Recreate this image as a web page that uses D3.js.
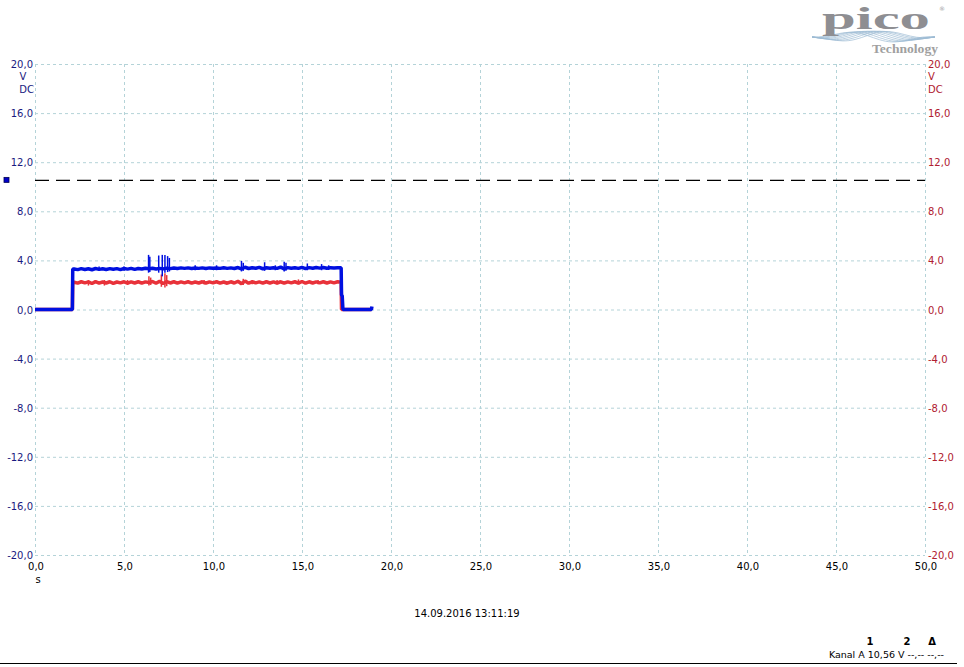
<!DOCTYPE html>
<html>
<head>
<meta charset="utf-8">
<script src="https://cdn.jsdelivr.net/npm/d3@7"></script>
<style>
  body { margin: 0; background: #fff; }
  svg { display: block; }
  text { font-family: "DejaVu Sans", Verdana, sans-serif; font-size: 10px; }
</style>
</head>
<body>
<div id="chart"></div>
<script>
// time axis ticks (s) and voltage ticks (V)
var xTicks = [0, 5, 10, 15, 20, 25, 30, 35, 40, 45, 50];
var yTicks = [20, 16, 12, 8, 4, 0, -4, -8, -12, -16, -20];

// sample times during the active phase (s)
var activeTimes = [
    2.2, 2.4, 2.6, 2.8, 3.0,
    3.2, 3.4, 3.6, 3.8, 4.0,
    4.2, 4.4, 4.6, 4.8, 5.0,
    5.2, 5.4, 5.6, 5.8, 6.0,
    6.2, 6.4, 6.6, 6.8, 7.0,
    7.2, 7.4, 7.6, 7.8, 8.0,
    8.2, 8.4, 8.6, 8.8, 9.0,
    9.2, 9.4, 9.6, 9.8, 10.0,
    10.2, 10.4, 10.6, 10.8, 11.0,
    11.2, 11.4, 11.6, 11.8, 12.0,
    12.2, 12.4, 12.6, 12.8, 13.0,
    13.2, 13.4, 13.6, 13.8, 14.0,
    14.2, 14.4, 14.6, 14.8, 15.0,
    15.2, 15.4, 15.6, 15.8, 16.0,
    16.2, 16.4, 16.6, 16.8, 17.0,
    17.2];

// Kanal A (blue)
var blueActive = [
    3.30, 3.25, 3.33, 3.26, 3.32,
    3.24, 3.34, 3.27, 3.32, 3.26,
    3.33, 3.28, 3.33, 3.25, 3.34,
    3.29, 3.35, 3.27, 3.34, 3.30,
    3.36, 3.32, 3.36, 3.30, 3.35,
    3.31, 3.37, 3.33, 3.38, 3.34,
    3.39, 3.35, 3.39, 3.34, 3.38,
    3.35, 3.39, 3.34, 3.39, 3.36,
    3.38, 3.35, 3.40, 3.35, 3.39,
    3.34, 3.42, 3.30, 3.44, 3.34,
    3.40, 3.36, 3.43, 3.32, 3.40,
    3.36, 3.40, 3.35, 3.45, 3.31,
    3.41, 3.36, 3.40, 3.35, 3.43,
    3.33, 3.41, 3.36, 3.42, 3.37,
    3.42, 3.36, 3.41, 3.38, 3.40,
    3.40];
var blueBeforeTimes = [0, 2.1, 2.12];
var blueBeforeValues = [0.0, 0.0, 3.30];
var blueAfterTimes = [17.22, 17.26, 17.3, 18.9, 18.93];
var blueAfterValues = [1.20, 1.10, 0.0, 0.0, 0.25];
// short glitches on Kanal A: time, min, max
var blueSpikeTimes = [3.6, 5.0, 6.38, 6.45, 6.95, 7.15, 7.3, 7.45, 7.55, 9.0, 10.2, 11.6, 11.7, 12.9, 13.5, 14.0, 14.1, 15.3, 16.1, 16.5];
var blueSpikeLow = [3.15, 3.15, 3.0, 3.05, 3.0, 2.7, 3.0, 3.05, 3.1, 3.2, 3.2, 3.1, 3.15, 3.15, 3.2, 3.1, 3.15, 3.2, 3.2, 3.22];
var blueSpikeHigh = [3.5, 3.5, 4.45, 4.3, 4.4, 4.45, 4.45, 4.35, 4.2, 3.6, 3.6, 3.95, 3.8, 3.85, 3.6, 3.9, 3.8, 3.75, 3.7, 3.6];

// Kanal B (red)
var redActive = [
    2.22, 2.15, 2.26, 2.17, 2.25,
    2.12, 2.27, 2.15, 2.24, 2.16,
    2.26, 2.13, 2.24, 2.17, 2.26,
    2.14, 2.25, 2.16, 2.26, 2.15,
    2.25, 2.20, 2.28, 2.14, 2.30,
    2.12, 2.28, 2.16, 2.26, 2.15,
    2.25, 2.17, 2.26, 2.15, 2.24,
    2.16, 2.26, 2.14, 2.25, 2.17,
    2.26, 2.15, 2.24, 2.14, 2.26,
    2.16, 2.30, 2.10, 2.32, 2.14,
    2.26, 2.17, 2.25, 2.15, 2.26,
    2.16, 2.25, 2.15, 2.26, 2.14,
    2.25, 2.17, 2.26, 2.15, 2.28,
    2.14, 2.26, 2.16, 2.25, 2.17,
    2.26, 2.16, 2.25, 2.17, 2.26,
    2.22];
var redBeforeTimes = [0, 2.1, 2.12];
var redBeforeValues = [0.0, 0.0, 2.22];
var redAfterTimes = [17.22, 18.9];
var redAfterValues = [0.0, 0.0];
// short glitches on Kanal B: time, min, max
var redSpikeTimes = [3.0, 3.9, 5.2, 6.4, 6.5, 7.1, 7.3, 7.4, 9.5, 11.7, 12.2, 13.6, 14.8, 15.9];
var redSpikeLow = [1.95, 1.95, 2.0, 1.95, 2.0, 1.85, 1.8, 1.9, 2.05, 2.0, 2.05, 2.05, 2.05, 2.05];
var redSpikeHigh = [2.4, 2.4, 2.4, 2.7, 2.6, 2.85, 2.95, 2.8, 2.4, 2.5, 2.4, 2.4, 2.45, 2.4];

var triggerLevel = 10.56;

var width = 964;
var height = 667;

var svg = d3.select("#chart").append("svg")
    .attr("width", width)
    .attr("height", height);

var x = d3.scaleLinear().domain([0, 50]).range([35, 925]);
var y = d3.scaleLinear().domain([-20, 20]).range([555, 64]);

var gridColor = "#b4d3d8";
var fmt = function (d) { return d3.format(".1f")(d).replace(".", ",").replace("−", "-"); };

// grid
svg.append("g").selectAll("line")
    .data(xTicks).enter().append("line")
    .attr("x1", d => x(d) + 0.5).attr("x2", d => x(d) + 0.5)
    .attr("y1", y(20)).attr("y2", y(-20))
    .style("stroke", gridColor)
    .style("stroke-dasharray", "3,3");

svg.append("g").selectAll("line")
    .data(yTicks).enter().append("line")
    .attr("x1", x(0)).attr("x2", x(50))
    .attr("y1", d => y(d) + 0.5).attr("y2", d => y(d) + 0.5)
    .style("stroke", gridColor)
    .style("stroke-dasharray", "3,3");

// left axis labels
svg.append("g").selectAll("text")
    .data(yTicks).enter().append("text")
    .attr("x", x(0) - 2).attr("y", d => y(d) + 4)
    .attr("text-anchor", "end")
    .style("fill", "#1a1a80")
    .text(fmt);
svg.append("text").attr("x", 23).attr("y", 80).attr("text-anchor", "middle").style("fill", "#1a1a80").text("V");
svg.append("text").attr("x", x(0) - 1).attr("y", 93).attr("text-anchor", "end").style("fill", "#1a1a80").text("DC");

// right axis labels
svg.append("g").selectAll("text")
    .data(yTicks).enter().append("text")
    .attr("x", x(50) + 3).attr("y", d => y(d) + 4)
    .style("fill", "#b02030")
    .text(fmt);
svg.append("text").attr("x", x(50) + 3).attr("y", 80).style("fill", "#b02030").text("V");
svg.append("text").attr("x", x(50) + 3).attr("y", 93).style("fill", "#b02030").text("DC");

// bottom axis labels
svg.append("g").selectAll("text")
    .data(xTicks).enter().append("text")
    .attr("x", d => x(d) + 1).attr("y", 570)
    .attr("text-anchor", "middle")
    .style("fill", "#000")
    .text(fmt);
svg.append("text").attr("x", 38).attr("y", 583).attr("text-anchor", "middle").style("fill", "#000").text("s");

// trigger level
svg.append("line")
    .attr("x1", x(0)).attr("x2", x(50))
    .attr("y1", y(triggerLevel) + 0.5).attr("y2", y(triggerLevel) + 0.5)
    .style("stroke", "#000")
    .style("stroke-width", 1.2)
    .style("stroke-dasharray", "14,7");
svg.append("rect")
    .attr("x", 4).attr("y", y(triggerLevel) - 2.5)
    .attr("width", 5).attr("height", 5)
    .style("fill", "#0000c8")
    .style("stroke", "#000050")
    .style("stroke-width", 0.8);

// signals
var line = d3.line()
    .x(d => x(d[0]))
    .y(d => y(d[1]));

function drawTrace(times, values, spikeTimes, spikeLow, spikeHigh, color) {
    svg.append("path")
        .datum(d3.zip(times, values))
        .attr("d", line)
        .style("fill", "none")
        .style("stroke", color)
        .style("stroke-width", 3.5)
        .style("stroke-linejoin", "bevel");

    svg.append("g").selectAll("line")
        .data(d3.zip(spikeTimes, spikeLow, spikeHigh))
        .enter().append("line")
        .attr("x1", d => x(d[0])).attr("x2", d => x(d[0]))
        .attr("y1", d => y(d[1])).attr("y2", d => y(d[2]))
        .style("stroke", color)
        .style("stroke-width", 1.5);
}

drawTrace(redBeforeTimes.concat(activeTimes, redAfterTimes),
    redBeforeValues.concat(redActive, redAfterValues),
    redSpikeTimes, redSpikeLow, redSpikeHigh, "#e8323a");
drawTrace(blueBeforeTimes.concat(activeTimes, blueAfterTimes),
    blueBeforeValues.concat(blueActive, blueAfterValues),
    blueSpikeTimes, blueSpikeLow, blueSpikeHigh, "#0010e0");

// footer
svg.append("text").attr("x", 467).attr("y", 617).attr("text-anchor", "middle").style("fill", "#000").text("14.09.2016 13:11:19");

svg.append("text").attr("x", 870).attr("y", 645).attr("text-anchor", "middle").style("font-weight", "bold").text("1");
svg.append("text").attr("x", 907).attr("y", 645).attr("text-anchor", "middle").style("font-weight", "bold").text("2");
svg.append("text").attr("x", 932).attr("y", 645).attr("text-anchor", "middle").style("font-weight", "bold").text("Δ");
svg.append("text").attr("x", 944).attr("y", 658).attr("text-anchor", "end").style("font-size", "9.5px").text("Kanal A  10,56 V  --,--    --,--");

svg.append("line")
    .attr("x1", 0).attr("x2", 957)
    .attr("y1", 663.5).attr("y2", 663.5)
    .style("stroke", "#000");

// pico logo
var logo = svg.append("g");

var waveX = d3.scaleLinear().domain([0, 1]).range([812, 935]);
var wavePhases = [0, 0.12, 0.24, 0.36, 0.48, 0.6, 0.72, 0.84];
var wave = d3.line()
    .x(d => waveX(d[0]))
    .y(d => d[1])
    .curve(d3.curveBasis);
logo.selectAll("path.wave")
    .data(wavePhases).enter().append("path")
    .attr("class", "wave")
    .attr("d", p => wave(d3.range(0, 1.01, 0.05).map(t => [t, 37 + 6 * Math.sin((t * 2.4 + p) * Math.PI) * Math.sin(t * Math.PI)])))
    .style("fill", "none")
    .style("stroke", "#9dbcd4")
    .style("stroke-width", 0.7);

logo.append("text").attr("x", 822).attr("y", 29)
    .attr("textLength", 108)
    .attr("lengthAdjust", "spacingAndGlyphs")
    .style("font-family", "'Liberation Serif', 'DejaVu Serif', serif")
    .style("font-size", "31px")
    .style("font-weight", "bold")
    .style("fill", "#8e8e92")
    .text("pico");
logo.append("text").attr("x", 939).attr("y", 11)
    .style("font-size", "6px").style("fill", "#999").text("®");
logo.append("text").attr("x", 872).attr("y", 53)
    .attr("textLength", 66)
    .attr("lengthAdjust", "spacingAndGlyphs")
    .style("font-family", "'Liberation Serif', 'DejaVu Serif', serif")
    .style("font-size", "12px")
    .style("font-weight", "bold")
    .style("fill", "#a0a0a0")
    .text("Technology");
</script>
</body>
</html>
